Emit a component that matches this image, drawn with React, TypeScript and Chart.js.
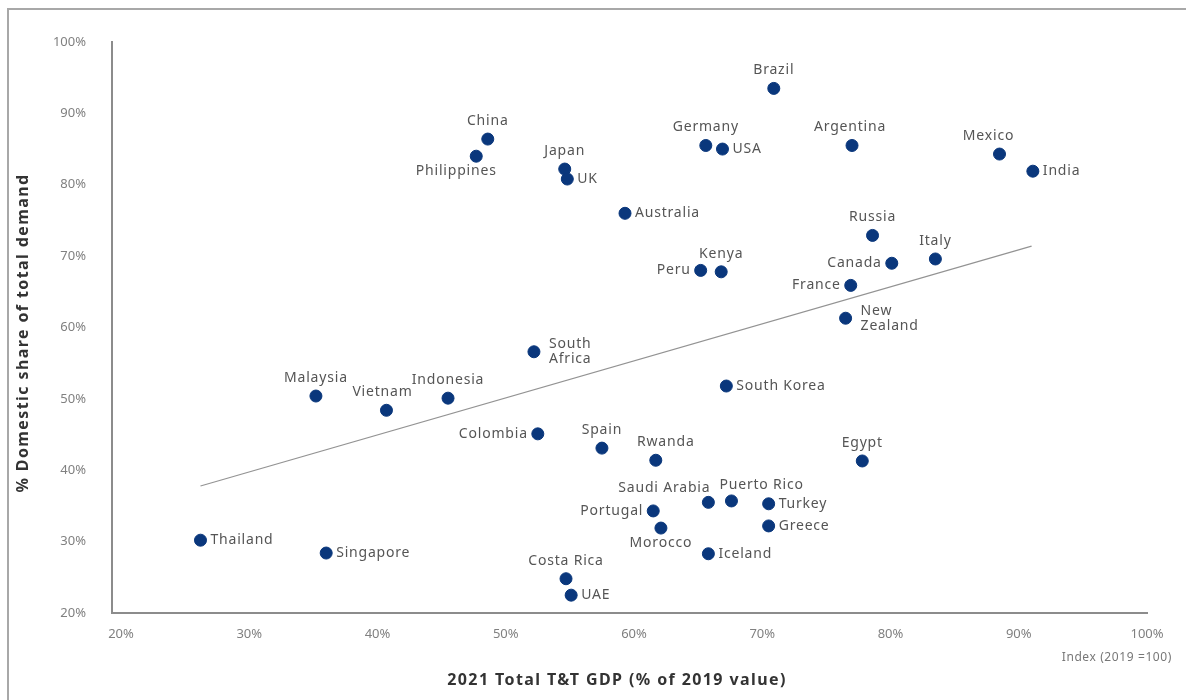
import React, { useEffect, useRef } from "react";
import { Chart, registerables } from "chart.js";

Chart.register(...registerables);

// ---------- DATA ----------
const countries: string[] = [
  "Brazil", "China", "Philippines", "Japan", "UK", "Germany", "USA", "Argentina",
  "Mexico", "India", "Australia", "Russia", "Italy", "Canada", "Kenya", "Peru",
  "France", "New Zealand", "South Africa", "South Korea", "Malaysia", "Vietnam",
  "Indonesia", "Colombia", "Spain", "Rwanda", "Egypt", "Saudi Arabia", "Puerto Rico",
  "Turkey", "Portugal", "Greece", "Morocco", "Iceland", "Thailand", "Singapore",
  "Costa Rica", "UAE",
];

// 2021 Total T&T GDP (% of 2019 value)
const gdpIndex: number[] = [
  70.9, 48.6, 47.7, 54.6, 54.8, 65.6, 66.9, 77.0,
  88.5, 91.1, 59.3, 78.6, 83.5, 80.1, 66.8, 65.2,
  76.9, 76.5, 52.2, 67.2, 35.2, 40.7,
  45.5, 52.5, 57.5, 61.7, 77.8, 65.8, 67.6,
  70.5, 61.5, 70.5, 62.1, 65.8, 26.2, 36.0,
  54.7, 55.1,
];

// % Domestic share of total demand
const domesticShare: number[] = [
  93.5, 86.4, 84.0, 82.2, 80.8, 85.5, 85.0, 85.5,
  84.3, 81.9, 76.0, 72.9, 69.6, 69.0, 67.8, 68.0,
  65.9, 61.3, 56.6, 51.8, 50.4, 48.4,
  50.1, 45.1, 43.1, 41.4, 41.3, 35.5, 35.7,
  35.3, 34.3, 32.2, 31.9, 28.3, 30.2, 28.4,
  24.8, 22.5,
];

// Trend line end points
const trendX: number[] = [26.2, 91.0];
const trendY: number[] = [37.8, 71.4];

const xTicks: number[] = [20, 30, 40, 50, 60, 70, 80, 90, 100];
const yTicks: number[] = [20, 30, 40, 50, 60, 70, 80, 90, 100];

const xTitle = "2021 Total T&T GDP (% of 2019 value)";
const yTitle = "% Domestic share of total demand";
const indexNote = "Index (2019 =100)";

// ---------- STYLE ----------
const labelAnchor: Record<string, string> = {
  Brazil: "top", China: "top", Philippines: "bottom", Japan: "top", UK: "right",
  Germany: "top", USA: "right", Argentina: "top", Mexico: "top", India: "right",
  Australia: "right", Russia: "top", Italy: "top", Canada: "left", Kenya: "top",
  Peru: "left", France: "left", "New Zealand": "right", "South Africa": "right",
  "South Korea": "right", Malaysia: "top", Vietnam: "top", Indonesia: "top",
  Colombia: "left", Spain: "top", Rwanda: "top", Egypt: "top", "Saudi Arabia": "topleft",
  "Puerto Rico": "topright", Turkey: "right", Portugal: "left", Greece: "right",
  Morocco: "bottom", Iceland: "right", Thailand: "right", Singapore: "right",
  "Costa Rica": "top", UAE: "right",
};
// small horizontal nudges of label text (px)
const labelNudge: Record<string, number> = {
  Philippines: -20, Mexico: -11, Rwanda: 10, Vietnam: -4, Argentina: -2, France: 0,
};
const wrapped = new Set(["New Zealand", "South Africa"]);

const DOT = "#0a377c";
const FONT = "'Noto Sans', sans-serif";
const LABEL_COLOR = "#555";

const labelPlugin = {
  id: "countryLabels",
  afterDatasetsDraw(chart: any) {
    const ctx = chart.ctx;
    const meta = chart.getDatasetMeta(0);
    ctx.save();
    ctx.font = `14px ${FONT}`;
    (ctx as any).letterSpacing = "0.8px";
    ctx.fillStyle = LABEL_COLOR;
    meta.data.forEach((el: any, i: number) => {
      const name = countries[i];
      const lines = wrapped.has(name) ? name.split(" ") : [name];
      const a = labelAnchor[name] || "right";
      const { x, y } = el;
      const lh = 15;
      let tx = x, ty = y;
      ctx.textBaseline = "middle";
      if (a === "top") { ctx.textAlign = "center"; ty = y - 18; }
      else if (a === "bottom") { ctx.textAlign = "center"; ty = y + 15; }
      else if (a === "left") { ctx.textAlign = "right"; tx = x - 10; }
      else if (a === "right") { ctx.textAlign = "left"; tx = x + 10; }
      else if (a === "topleft") { ctx.textAlign = "right"; tx = x + 2; ty = y - 14; }
      else if (a === "topright") { ctx.textAlign = "left"; tx = x - 12; ty = y - 16; }
      if (lines.length > 1 && a === "right") tx = x + 15;
      tx += labelNudge[name] || 0;
      const startY = ty - ((lines.length - 1) * lh) / 2;
      lines.forEach((ln, k) => ctx.fillText(ln, tx, startY + k * lh));
    });
    ctx.restore();
  },
};

const decorPlugin = {
  id: "decor",
  beforeDraw(chart: any) {
    const ctx = chart.ctx;
    ctx.save();
    ctx.fillStyle = "#fff";
    ctx.fillRect(0, 0, chart.width, chart.height);
    ctx.strokeStyle = "#a8a8a8";
    ctx.lineWidth = 2;
    ctx.strokeRect(8, 9, chart.width + 20, chart.height + 20);
    ctx.restore();
  },
  afterDraw(chart: any) {
    const ctx = chart.ctx;
    ctx.save();
    ctx.fillStyle = "#333";
    ctx.font = `bold 16px ${FONT}`;
    (ctx as any).letterSpacing = "1.4px";
    ctx.textAlign = "center";
    ctx.textBaseline = "middle";
    ctx.fillText(xTitle, 617, 680);
    ctx.save();
    ctx.translate(23, 333);
    ctx.rotate(-Math.PI / 2);
    ctx.fillText(yTitle, 0, 0);
    ctx.restore();
    ctx.font = `12px ${FONT}`;
    (ctx as any).letterSpacing = "0.6px";
    ctx.fillStyle = "#777";
    ctx.textAlign = "right";
    ctx.fillText(indexNote, 1172, 658);
    ctx.restore();
  },
};

export default function App() {
  const ref = useRef<HTMLCanvasElement | null>(null);
  useEffect(() => {
    if (!ref.current) return;
    const chart = new Chart(ref.current, {
      type: "scatter",
      data: {
        datasets: [
          {
            label: "Countries",
            data: gdpIndex.map((x, i) => ({ x, y: domesticShare[i] })),
            backgroundColor: DOT,
            borderColor: DOT,
            pointRadius: 6,
            pointHoverRadius: 6,
            order: 1,
          },
          {
            label: "Trend",
            data: trendX.map((x, i) => ({ x, y: trendY[i] })),
            showLine: true,
            borderColor: "#939393",
            borderWidth: 1.2,
            pointRadius: 0,
            order: 2,
          } as any,
        ],
      },
      options: {
        animation: false,
        responsive: false,
        devicePixelRatio: 1,
        layout: { padding: { top: 42, right: 39, left: 0, bottom: 0 } },
        plugins: { legend: { display: false }, tooltip: { enabled: false } },
        scales: {
          x: {
            type: "linear",
            min: 19.3,
            max: 100,
            afterBuildTicks: (s: any) => { s.ticks = xTicks.map((v) => ({ value: v })); },
            afterFit: (s: any) => { s.height = 87; },
            grid: { display: true, color: "transparent", drawTicks: false },
            border: { display: true, color: "#8c8c8c", width: 2 },
            ticks: {
              padding: 13,
              color: "#808080",
              font: { family: FONT, size: 13 },
              callback: (v: any) => `${v}%`,
              maxRotation: 0,
            },
          },
          y: {
            type: "linear",
            min: 20,
            max: 100,
            afterBuildTicks: (s: any) => { s.ticks = yTicks.map((v) => ({ value: v })); },
            afterFit: (s: any) => { s.width = 112; },
            grid: { display: true, color: "transparent", drawTicks: false },
            border: { display: true, color: "#8c8c8c", width: 2 },
            ticks: {
              padding: 26,
              color: "#808080",
              font: { family: FONT, size: 13 },
              callback: (v: any) => `${v}%`,
            },
          },
        },
      },
      plugins: [decorPlugin, labelPlugin],
    });
    return () => chart.destroy();
  }, []);
  return (
    <div style={{ position: "absolute", left: 0, top: 0, width: 1186, height: 700, background: "#fff" }}>
      <canvas ref={ref} width={1186} height={700} style={{ display: "block" }} />
    </div>
  );
}
